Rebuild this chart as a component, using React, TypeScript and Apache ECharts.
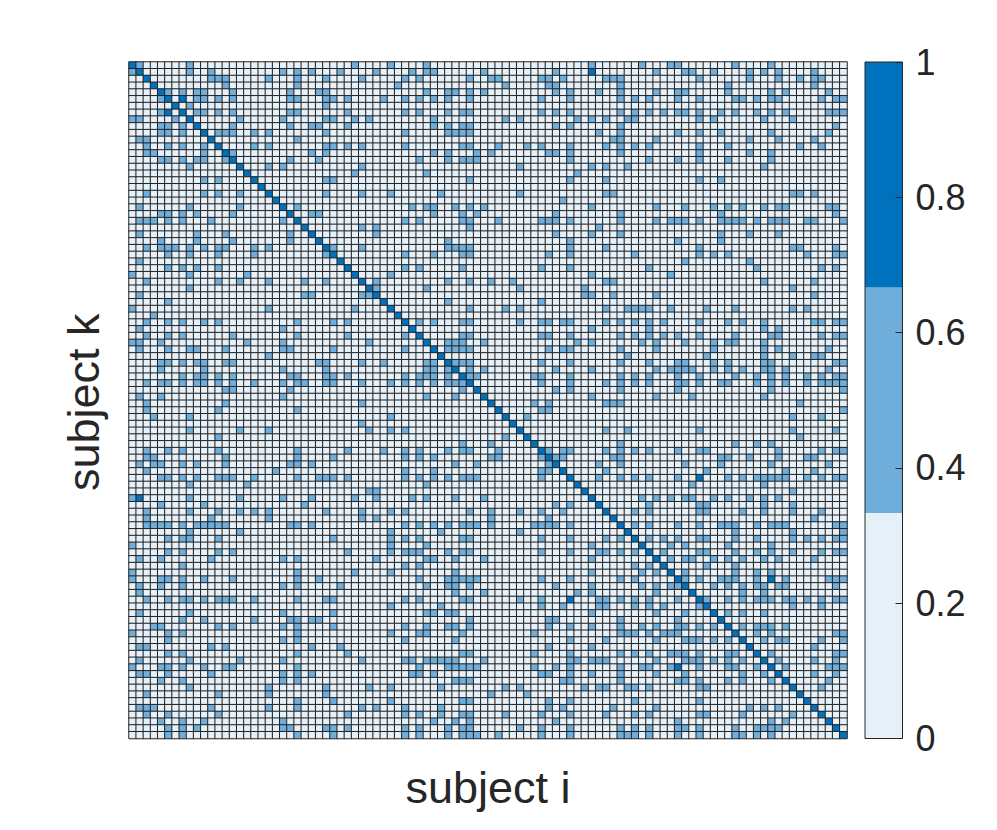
import React, { useEffect, useRef } from "react";
import * as echarts from "echarts";

const size = 100;
// columns (right of the diagonal) holding a middle-class value, one list per row
const midByRow: number[][] = [
  [1,8,31,36,41,64,71,75,76,84,89],
  [8,11,21,23,25,29,34,39,41,42,49,59,73,77,78,81,86,88,90,95],
  [11,12,13,19,23,27,32,38,40,47,50,51,57,58,60,66,67,68,79,86,90,93,95,96],
  [13,23,37,52,58,59,68,83,95],
  [5,7,9,10,14,22,26,27,41,44,45,47,49,59,61,65,68,73,76,77,83,89,91,97],
  [9,10,12,14,22,23,27,28,30,35,38,40,42,44,47,57,61,68,70,72,76,79,84,85,87,89,90,96,98,99],
  [8,27],
  [9,10,12,14,22,23,30,38,40,44,46,47,57,59,61,68,70,72,74,76,77,79,82,84,87,89,91,97,98,99],
  [15,21,27,28,31,33,42,52,54,62,64,66,69,70,79,81,88,92],
  [14,22,25,26,30,42,44,46,47,59,61,68,98],
  [12,13,14,17,19,27,38,44,45,46,47,65,68,76,79,82,89,97],
  [23,67,68,73,86,90,95],
  [17,19,27,28,30,32,38,46,47,51,55,57,61,66,68,70,72,79,83,93,96],
  [14,25,27,42,44,48,50,58,59,61,68,79,86,89],
  [22,26,40,44,46,47,48,61,72,76,79,83,89],
  [19,21,32,54,64,66,69,88],
  [31,41,62],
  [27,28,47,61,66,79,82],
  [],
  [27,32,36,43,54,66,67,92,93,95],
  [60],
  [23,39,41,42,45,47,49,64,73,77,81,83,85,88,90,91,97,98],
  [25,26,42,46,48,59,68,82,98],
  [38,40,46,47,51,57,58,59,61,68,73,75,76,77,79,82,83,84,85,87,89,90,91,94,95,99],
  [32,34,47,65],
  [34,59,64,68,82,86,90],
  [44,61,76,82],
  [28,32,44,45,46,47,61,66,79,92,93,98],
  [38,42,46,47,58,61,70,79,81,83,94,98,99],
  [77,86],
  [38,40,46,57,61,72,87,96,98],
  [36,64,75],
  [34,44,47,50,53,66,67,88,95],
  [34,41,54,63,92],
  [63,64,67,73,95],
  [44,57],
  [47,52,54,66,69,70,71,72,75,80,84,92,94],
  [],
  [40,42,46,47,54,57,58,60,61,66,68,70,72,74,79,83,85,88,95,96,98,99],
  [64,72,88,90],
  [46,47,57,58,61,68,70,72,74,76,79,84,89,90,96,98,99],
  [44,45,46,49,62,64,71,73,77,81,83,84,88],
  [44,45,46,47,58,60,61,68,73,81,88,90,97],
  [69,80,88,92,95,96],
  [45,46,47,57,61,68,72,76,77,81,83,88,89,98,99],
  [47,49,59,64,73,75,76,77,78,81,83,85,88,89,91,97],
  [47,48,56,57,61,68,70,72,76,79,84,87,89,91,94,96,98,99],
  [57,61,66,68,70,72,76,77,79,82,83,87,89,91,94,96,97,98,99],
  [59,61,68,76,89,99],
  [64,73,78,88],
  [56,58,66,67,68,93],
  [57,58,99],
  [55,92,96],
  [],
  [66,69,79,92,98],
  [93],
  [68,84,87,89],
  [58,60,61,66,68,70,72,76,79,80,90,96,98,99],
  [59,60,67,68,82,83,86,90,94,95],
  [65,68,77,82,89,97],
  [66,80,91,95],
  [65,68,70,72,76,83,85,87,88,89,90,91,94,96,98,99],
  [78,88],
  [92],
  [71,73,75,77,78,81,83,86,88,90],
  [72,79,80,88,92],
  [70,72,79,80,85,88,92,96],
  [95],
  [70,72,76,79,82,83,84,87,89,90,91,98,99],
  [84,92,99],
  [72,74,76,79,80,84,87,92,94,96,98,99],
  [75,77,83,89],
  [74,79,80,84,87,89,92,96,98,99],
  [75,77,78,81,83,85,88,90,95],
  [80,84],
  [77,84,87,89],
  [77,79,82,83,84,87,91,97,98,99],
  [81,83,85,87,88,90,91,98],
  [85,88],
  [80,83,85,87,88,89,91,92,94,96,98,99],
  [92,96],
  [83,85,88],
  [],
  [85,87,88,89,91],
  [87,89,98,99],
  [88,90,91,96,99],
  [95],
  [89,98,99],
  [90,95,98],
  [91,97,98,99],
  [95,98],
  [97],
  [96],
];
// off-diagonal pairs in the top class
const strongPairs: number[][] = [[1,64],[5,7],[61,79],[76,89]];

const classValues = [0, 0.5, 1];
const classColors = ["#e5f0f8", "#6fadda", "#0071bc"];
const barClassSpan = [1/3, 1/3, 1/3];
const barTicks = [0, 0.2, 0.4, 0.6, 0.8, 1];

function buildCells(): number[][] {
  const m: number[][] = [];
  for (let r = 0; r < size; r++) m.push(new Array(size).fill(classValues[0]));
  midByRow.forEach((cols, r) => cols.forEach((c) => { m[r][c] = classValues[1]; m[c][r] = classValues[1]; }));
  strongPairs.forEach(([r, c]) => { m[r][c] = classValues[2]; m[c][r] = classValues[2]; });
  for (let r = 0; r < size; r++) m[r][r] = classValues[2];
  const out: number[][] = [];
  for (let r = 0; r < size; r++) for (let c = 0; c < size; c++) out.push([c, r, m[r][c]]);
  return out;
}

const axisText = "#262626";
const fontFamily = "'Liberation Sans', Arial, sans-serif";
const indices = Array.from({ length: size }, (_, i) => String(i));

export default function App() {
  const ref = useRef<HTMLDivElement>(null);
  useEffect(() => {
    document.body.style.margin = "0";
    const chart = echarts.init(ref.current!, undefined, { renderer: "svg" });
    chart.setOption({
      animation: false,
      backgroundColor: "#ffffff",
      grid: [
        { left: 129, top: 62, width: 718, height: 676.5 },
        { left: 865, top: 62, width: 37.5, height: 676.5 },
      ],
      xAxis: [
        {
          type: "category", gridIndex: 0, data: indices, name: "subject i", nameLocation: "middle", nameGap: 26,
          nameTextStyle: { fontSize: 45, color: axisText, fontFamily },
          axisLine: { show: false }, axisTick: { show: false }, axisLabel: { show: false }, splitLine: { show: false },
        },
        {
          type: "category", gridIndex: 1, data: ["bar"],
          axisLine: { show: false }, axisTick: { show: false }, axisLabel: { show: false }, splitLine: { show: false },
        },
      ],
      yAxis: [
        {
          type: "category", gridIndex: 0, inverse: true, data: indices, name: "subject k", nameLocation: "middle", nameGap: 23,
          nameTextStyle: { fontSize: 45, color: axisText, fontFamily, padding: [0, 0, 0, -4] },
          axisLine: { show: false }, axisTick: { show: false }, axisLabel: { show: false }, splitLine: { show: false },
        },
        {
          type: "value", gridIndex: 1, position: "right", min: 0, max: 1, interval: 0.2, z: 10,
          axisLine: { show: false },
          axisTick: { show: true, inside: true, length: 7, lineStyle: { color: axisText, width: 1 } },
          axisLabel: {
            show: true, fontSize: 36, color: axisText, fontFamily, margin: 13, align: "left", padding: [6, 0, 0, 0],
            formatter: (v: number) => (barTicks.includes(Number(v.toFixed(1))) ? String(Number(v.toFixed(1))) : ""),
          },
          splitLine: { show: false },
        },
      ],
      visualMap: {
        type: "piecewise", show: false, seriesIndex: 0, dimension: 2,
        pieces: [
          { gte: 0, lt: 1 / 3, color: classColors[0] },
          { gte: 1 / 3, lt: 2 / 3, color: classColors[1] },
          { gte: 2 / 3, lte: 1, color: classColors[2] },
        ],
      },
      graphic: [
        { type: "rect", z: 100, silent: true, shape: { x: 865, y: 62, width: 37.5, height: 676.5 }, style: { fill: "none", stroke: axisText, lineWidth: 1 } },
      ],
      series: [
        {
          type: "heatmap", xAxisIndex: 0, yAxisIndex: 0, data: buildCells(), progressive: 0, silent: true,
          itemStyle: { borderColor: "#222222", borderWidth: 1 },
          emphasis: { disabled: true },
        },
        ...barClassSpan.map((span, i) => ({
          type: "bar", xAxisIndex: 1, yAxisIndex: 1, stack: "colorbar", barWidth: "100%", silent: true,
          data: [span], itemStyle: { color: classColors[i] },
        })),
      ],
    });
    return () => chart.dispose();
  }, []);
  return <div ref={ref} style={{ position: "absolute", left: 0, top: 0, width: 997, height: 830 }} />;
}
